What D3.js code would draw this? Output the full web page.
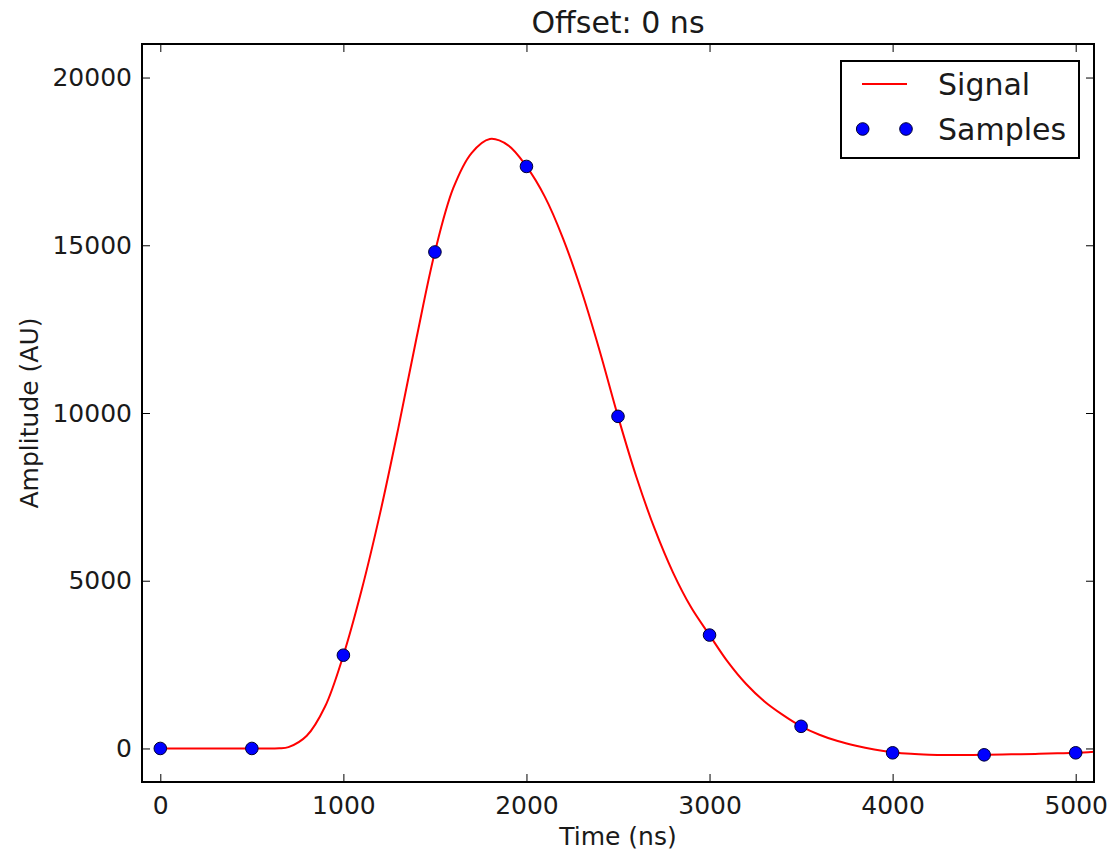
<!DOCTYPE html>
<html>
<head>
<meta charset="utf-8">
<script src="https://cdn.jsdelivr.net/npm/d3@7"></script>
<style>
  html, body { margin: 0; padding: 0; background: #fff; }
  svg { display: block; font-family: "DejaVu Sans", sans-serif; }
</style>
</head>
<body>
<svg id="chart" width="1111" height="857"></svg>
<script>
// ---- data ----
const signalTime = [0,100,200,300,400,500,600,650,700,800,900,1000,1100,1200,1300,1400,1500,1600,1700,1800,1900,2000,2100,2200,2300,2400,2500,2600,2700,2800,2900,3000,3100,3200,3300,3400,3500,3600,3700,3800,3900,4000,4100,4200,4300,4400,4500,4600,4700,4800,4900,5000,5100];
const signalValue = [0,0,0,0,0,0,0,3,40,380,1250,2780,4730,7000,9550,12250,14800,16700,17750,18170,17980,17350,16450,15200,13650,11850,9900,8100,6550,5250,4200,3380,2580,1920,1400,1000,660,410,220,80,-30,-110,-160,-185,-195,-195,-190,-180,-170,-160,-145,-130,-95];
const sampleTime = [0,500,1000,1500,2000,2500,3000,3500,4000,4500,5000];
const sampleValue = [0,0,2780,14800,17350,9900,3380,660,-130,-190,-130];
const xTicks = [0,1000,2000,3000,4000,5000];
const yTicks = [0,5000,10000,15000,20000];
const xDomain = [-100, 5100];
const yDomain = [-1000, 21000];
const titleText = "Offset: 0 ns";
const xLabel = "Time (ns)";
const yLabel = "Amplitude (AU)";
const legendLabels = ["Signal", "Samples"];

// ---- layout ----
const L = 142, R = 1094, T = 44, B = 782;
const svg = d3.select("#chart");
const x = d3.scaleLinear().domain(xDomain).range([L, R]);
const y = d3.scaleLinear().domain(yDomain).range([B, T]);
const tickLen = 8;
const fs = 25;

svg.append("defs").append("clipPath").attr("id", "clip")
  .append("rect").attr("x", L).attr("y", T).attr("width", R - L).attr("height", B - T);

// signal line
const sig = signalTime.map((t, i) => [t, signalValue[i]]);
svg.append("path")
  .datum(sig)
  .attr("clip-path", "url(#clip)")
  .attr("fill", "none")
  .attr("stroke", "#ff0000")
  .attr("stroke-width", 2)
  .attr("d", d3.line().x(d => x(d[0])).y(d => y(d[1])).curve(d3.curveCatmullRom.alpha(0.5)));

// samples
svg.append("g").selectAll("circle")
  .data(sampleTime.map((t, i) => [t, sampleValue[i]]))
  .join("circle")
  .attr("cx", d => x(d[0]))
  .attr("cy", d => y(d[1]))
  .attr("r", 6.3)
  .attr("fill", "#0000ff")
  .attr("stroke", "#000033")
  .attr("stroke-width", 1);

// axes (inward ticks on all sides)
const axB = d3.axisBottom(x).tickValues(xTicks).tickSizeInner(-tickLen).tickSizeOuter(0).tickPadding(14).tickFormat(d3.format("d"));
const axT = d3.axisTop(x).tickValues(xTicks).tickSizeInner(-tickLen).tickSizeOuter(0).tickFormat("");
const axL = d3.axisLeft(y).tickValues(yTicks).tickSizeInner(-tickLen).tickSizeOuter(0).tickPadding(10).tickFormat(d3.format("d"));
const axR = d3.axisRight(y).tickValues(yTicks).tickSizeInner(-tickLen).tickSizeOuter(0).tickFormat("");

function styleAxis(g) {
  g.select(".domain").remove();
  g.selectAll(".tick line").attr("stroke", "#000").attr("stroke-width", 1);
  g.selectAll(".tick text").attr("fill", "#1a1a1a").style("font-size", fs + "px").style("font-family", "DejaVu Sans");
}
svg.append("g").attr("transform", `translate(0,${B})`).call(axB).call(styleAxis);
svg.append("g").attr("transform", `translate(0,${T})`).call(axT).call(styleAxis);
svg.append("g").attr("transform", `translate(${L},0)`).call(axL).call(styleAxis);
svg.append("g").attr("transform", `translate(${R},0)`).call(axR).call(styleAxis);

// frame
svg.append("rect").attr("x", L).attr("y", T).attr("width", R - L).attr("height", B - T)
  .attr("fill", "none").attr("stroke", "#000").attr("stroke-width", 2);

// title and labels
svg.append("text").attr("x", (L + R) / 2).attr("y", 33).attr("text-anchor", "middle")
  .style("font-size", "30px").attr("fill", "#1a1a1a").text(titleText);
svg.append("text").attr("x", (L + R) / 2).attr("y", 845).attr("text-anchor", "middle")
  .style("font-size", fs + "px").attr("fill", "#1a1a1a").text(xLabel);
svg.append("text").attr("transform", `translate(38,${(T + B) / 2}) rotate(-90)`).attr("text-anchor", "middle")
  .style("font-size", fs + "px").attr("fill", "#1a1a1a").text(yLabel);

// legend
const lg = svg.append("g");
lg.append("rect").attr("x", 841).attr("y", 61).attr("width", 238).attr("height", 97)
  .attr("fill", "#fff").attr("stroke", "#000").attr("stroke-width", 2);
lg.append("line").attr("x1", 862).attr("x2", 907).attr("y1", 84).attr("y2", 84)
  .attr("stroke", "#ff0000").attr("stroke-width", 2);
[862.7, 906].forEach(cx => lg.append("circle").attr("cx", cx).attr("cy", 129).attr("r", 6.3)
  .attr("fill", "#0000ff").attr("stroke", "#000033").attr("stroke-width", 1));
lg.append("text").attr("x", 938).attr("y", 95).style("font-size", "30px").attr("fill", "#1a1a1a").text(legendLabels[0]);
lg.append("text").attr("x", 938).attr("y", 140).style("font-size", "30px").attr("fill", "#1a1a1a").text(legendLabels[1]);
</script>
</body>
</html>
